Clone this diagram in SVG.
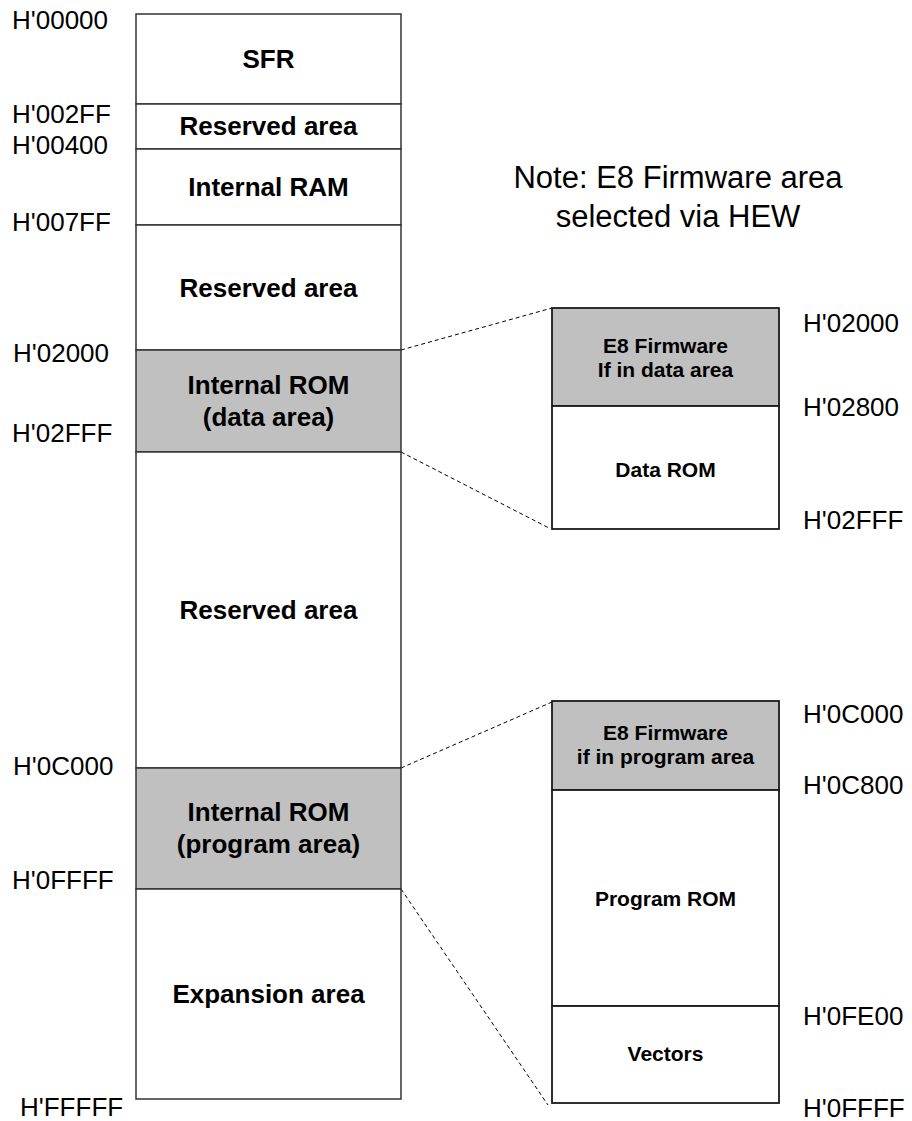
<svg xmlns="http://www.w3.org/2000/svg" width="912" height="1121" viewBox="0 0 912 1121">
<style>
.cell{fill:#ffffff;stroke:#333333;stroke-width:1.5}
.grey{fill:#c0c0c0;stroke:#333333;stroke-width:1.5}
.rcell{fill:#ffffff;stroke:#1a1a1a;stroke-width:1.8}
.rgrey{fill:#c0c0c0;stroke:#1a1a1a;stroke-width:1.8}
.lbl{font-family:"Liberation Sans",Arial,sans-serif;font-weight:bold;font-size:26px;fill:#000;text-anchor:middle}
.rlbl{font-family:"Liberation Sans",Arial,sans-serif;font-weight:bold;font-size:21px;fill:#000;text-anchor:middle}
.addr{font-family:"Liberation Sans",Arial,sans-serif;font-size:26px;fill:#000}
.note{font-family:"Liberation Sans",Arial,sans-serif;font-size:31px;fill:#000;text-anchor:middle}
.dash{fill:none;stroke:#000;stroke-width:1;stroke-dasharray:4,3}
</style>
<rect width="912" height="1121" fill="#ffffff"/>

<g id="connectors">
<line class="dash" x1="401" y1="350" x2="552" y2="308"/>
<line class="dash" x1="401" y1="452" x2="549" y2="528"/>
<line class="dash" x1="401" y1="768" x2="552" y2="702"/>
<line class="dash" x1="401" y1="889" x2="548" y2="1105"/>
</g>

<g id="sfr">
<rect class="cell" x="136" y="14" width="265" height="90"/>
<text class="lbl" x="268.5" y="68">SFR</text>
</g>
<g id="reserved1">
<rect class="cell" x="136" y="104" width="265" height="45"/>
<text class="lbl" x="268.5" y="135">Reserved area</text>
</g>
<g id="internal-ram">
<rect class="cell" x="136" y="149" width="265" height="76"/>
<text class="lbl" x="268.5" y="196">Internal RAM</text>
</g>
<g id="reserved2">
<rect class="cell" x="136" y="225" width="265" height="125"/>
<text class="lbl" x="268.5" y="297">Reserved area</text>
</g>
<g id="rom-data">
<rect class="grey" x="136" y="350" width="265" height="102"/>
<text class="lbl" x="268.5" y="394">Internal ROM</text>
<text class="lbl" x="268.5" y="426">(data area)</text>
</g>
<g id="reserved3">
<rect class="cell" x="136" y="452" width="265" height="316"/>
<text class="lbl" x="268.5" y="619">Reserved area</text>
</g>
<g id="rom-program">
<rect class="grey" x="136" y="768" width="265" height="121"/>
<text class="lbl" x="268.5" y="821">Internal ROM</text>
<text class="lbl" x="268.5" y="853">(program area)</text>
</g>
<g id="expansion">
<rect class="cell" x="136" y="889" width="265" height="210"/>
<text class="lbl" x="268.5" y="1003">Expansion area</text>
</g>

<g id="addr-left">
<text class="addr" x="12" y="29">H'00000</text>
<text class="addr" x="12" y="123">H'002FF</text>
<text class="addr" x="12" y="154">H'00400</text>
<text class="addr" x="12" y="231">H'007FF</text>
<text class="addr" x="13" y="362">H'02000</text>
<text class="addr" x="12" y="442">H'02FFF</text>
<text class="addr" x="13" y="775">H'0C000</text>
<text class="addr" x="12" y="889">H'0FFFF</text>
<text class="addr" x="20" y="1116">H'FFFFF</text>
</g>

<g id="note">
<text class="note" x="678" y="188">Note: E8 Firmware area</text>
<text class="note" x="678" y="227">selected via HEW</text>
</g>

<g id="fw-data">
<rect class="rgrey" x="552" y="308" width="227" height="98"/>
<text class="rlbl" x="665.5" y="353">E8 Firmware</text>
<text class="rlbl" x="665.5" y="377">If in data area</text>
</g>
<g id="data-rom">
<rect class="rcell" x="552" y="406" width="227" height="123"/>
<text class="rlbl" x="665.5" y="477">Data ROM</text>
</g>
<g id="fw-program">
<rect class="rgrey" x="552" y="701" width="227" height="89"/>
<text class="rlbl" x="665.5" y="740">E8 Firmware</text>
<text class="rlbl" x="665.5" y="764">if in program area</text>
</g>
<g id="program-rom">
<rect class="rcell" x="552" y="790" width="227" height="216"/>
<text class="rlbl" x="665.5" y="906">Program ROM</text>
</g>
<g id="vectors">
<rect class="rcell" x="552" y="1006" width="227" height="97"/>
<text class="rlbl" x="665.5" y="1061">Vectors</text>
</g>

<g id="addr-right">
<text class="addr" x="803" y="332">H'02000</text>
<text class="addr" x="803" y="416">H'02800</text>
<text class="addr" x="803" y="529">H'02FFF</text>
<text class="addr" x="803" y="723">H'0C000</text>
<text class="addr" x="803" y="794">H'0C800</text>
<text class="addr" x="803" y="1025">H'0FE00</text>
<text class="addr" x="803" y="1117">H'0FFFF</text>
</g>
</svg>
